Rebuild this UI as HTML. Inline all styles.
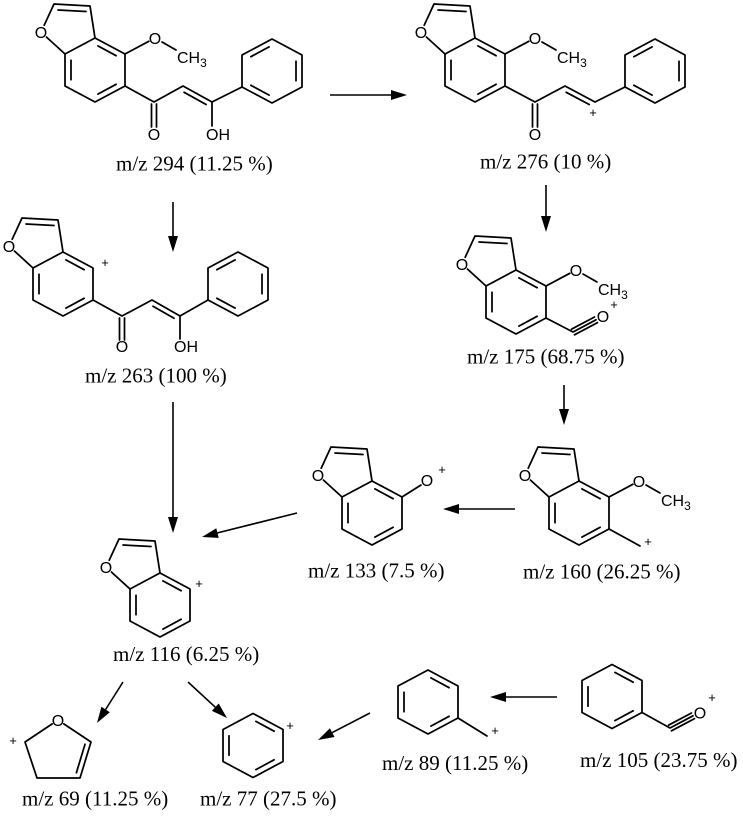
<!DOCTYPE html>
<html>
<head>
<meta charset="utf-8">
<style>
  html, body { margin: 0; padding: 0; background: #fff; }
  svg { display: block; }
  .b { fill: none; stroke: #000; stroke-width: 1.75; stroke-linecap: round; stroke-linejoin: round; }
  .a { fill: none; stroke: #000; stroke-width: 1.6; }
  .h { fill: #000; stroke: none; }
  .at { font-family: "Liberation Sans", Arial, sans-serif; font-size: 16px; fill: #000; }
  .pl { font-family: "Liberation Sans", Arial, sans-serif; font-size: 13px; fill: #000; }
  .lb { font-family: "Liberation Serif", "Times New Roman", serif; font-size: 21px; fill: #000; }
</style>
</head>
<body>
<svg width="743" height="819" viewBox="0 0 743 819" xmlns="http://www.w3.org/2000/svg">

<!-- ============ S1: m/z 294 ============ -->
<g transform="translate(95,70)">
  <path class="b" d="M0,-32 L30,-16 L30,16 L0,32 L-30,16 L-30,-16 Z M0,-32 L-5,-64 L-41,-66 L-50.8,-44.8 M-48.5,-32.9 L-30,-16 M2.9,-24.1 L21.1,-14.3 M21.1,14.3 L2.9,24.1 M-24,9.7 L-24,-9.7 M-37,-60 L-9,-58.5"/>
  <text class="at" x="-54" y="-32" text-anchor="middle">O</text>
  <path class="b" d="M30,-16 L53.8,-28.7 M67,-28 L81,-20"/>
  <text class="at" x="60" y="-26" text-anchor="middle">O</text>
  <text class="at" x="82" y="-7">CH<tspan font-size="12" dy="4">3</tspan></text>
</g>
<path class="b" d="M125,86 L154,102 L183,86 L212,102 L242,87 M151.5,104 L151.5,127 M156.5,104 L156.5,127 M184.1,92.3 L206.1,104.5 M212,102 L212,126"/>
<text class="at" x="154" y="140" text-anchor="middle">O</text>
<text class="at" x="206" y="140">OH</text>
<g transform="translate(272,71)">
  <path class="b" d="M0,-32 L30,-16 L30,16 L0,32 L-30,16 L-30,-16 Z M-21.1,-14.3 L-2.9,-24.1 M24,-9.7 L24,9.7 M-2.9,24.1 L-21.1,14.3"/>
</g>
<text class="lb" x="116" y="170.5">m/z 294 (11.25 %)</text>

<!-- ============ S2: m/z 276 ============ -->
<g transform="translate(475,70)">
  <path class="b" d="M0,-32 L30,-16 L30,16 L0,32 L-30,16 L-30,-16 Z M0,-32 L-5,-64 L-41,-66 L-50.8,-44.8 M-48.5,-32.9 L-30,-16 M2.9,-24.1 L21.1,-14.3 M21.1,14.3 L2.9,24.1 M-24,9.7 L-24,-9.7 M-37,-60 L-9,-58.5"/>
  <text class="at" x="-54" y="-32" text-anchor="middle">O</text>
  <path class="b" d="M30,-16 L53.8,-28.7 M67,-28 L81,-20"/>
  <text class="at" x="60" y="-26" text-anchor="middle">O</text>
  <text class="at" x="82" y="-7">CH<tspan font-size="12" dy="4">3</tspan></text>
</g>
<path class="b" d="M505,86 L535,102 L565,86 L595,102 L625,87 M532.5,104 L532.5,127 M537.5,104 L537.5,127 M566.2,92.3 L589.2,104.5"/>
<text class="at" x="535" y="140" text-anchor="middle">O</text>
<text class="pl" x="593" y="117" text-anchor="middle">+</text>
<g transform="translate(655,71)">
  <path class="b" d="M0,-32 L30,-16 L30,16 L0,32 L-30,16 L-30,-16 Z M-21.1,-14.3 L-2.9,-24.1 M24,-9.7 L24,9.7 M-2.9,24.1 L-21.1,14.3"/>
</g>
<text class="lb" x="480" y="168.5">m/z 276 (10 %)</text>

<!-- ============ S3: m/z 263 ============ -->
<g transform="translate(63,284)">
  <path class="b" d="M0,-32 L30,-16 L30,16 L0,32 L-30,16 L-30,-16 Z M0,-32 L-5,-64 L-41,-66 L-50.8,-44.8 M-48.5,-32.9 L-30,-16 M2.9,-24.1 L21.1,-14.3 M21.1,14.3 L2.9,24.1 M-24,9.7 L-24,-9.7 M-37,-60 L-9,-58.5"/>
  <text class="at" x="-54" y="-32" text-anchor="middle">O</text>
</g>
<text class="pl" x="105" y="267" text-anchor="middle">+</text>
<path class="b" d="M93,300 L122,316 L152,300 L180,316 L208,300 M119.5,318 L119.5,340 M124.5,318 L124.5,340 M153,306.3 L174,318.3 M180,316 L180,339"/>
<text class="at" x="122" y="352" text-anchor="middle">O</text>
<text class="at" x="174" y="352">OH</text>
<g transform="translate(238,284)">
  <path class="b" d="M0,-32 L30,-16 L30,16 L0,32 L-30,16 L-30,-16 Z M-21.1,-14.3 L-2.9,-24.1 M24,-9.7 L24,9.7 M-2.9,24.1 L-21.1,14.3"/>
</g>
<text class="lb" x="85" y="382.5">m/z 263 (100 %)</text>

<!-- ============ S4: m/z 175 ============ -->
<g transform="translate(516,302)">
  <path class="b" d="M0,-32 L30,-16 L30,16 L0,32 L-30,16 L-30,-16 Z M0,-32 L-5,-64 L-41,-66 L-50.8,-44.8 M-48.5,-32.9 L-30,-16 M2.9,-24.1 L21.1,-14.3 M21.1,14.3 L2.9,24.1 M-24,9.7 L-24,-9.7 M-37,-60 L-9,-58.5"/>
  <text class="at" x="-54" y="-32" text-anchor="middle">O</text>
  <path class="b" d="M30,-16 L53.8,-28.7 M67,-28 L81,-20"/>
  <text class="at" x="60" y="-26" text-anchor="middle">O</text>
  <text class="at" x="82" y="-7">CH<tspan font-size="12" dy="4">3</tspan></text>
</g>
<path class="b" d="M546,318 L573,332 L596,319.8 M574.5,334.8 L597.5,322.6 M571.5,329.2 L594.5,317"/>
<text class="at" x="603" y="322" text-anchor="middle">O</text>
<text class="pl" x="614" y="309" text-anchor="middle">+</text>
<text class="lb" x="467" y="363.5">m/z 175 (68.75 %)</text>

<!-- ============ S5: m/z 160 ============ -->
<g transform="translate(579,513)">
  <path class="b" d="M0,-32 L30,-16 L30,16 L0,32 L-30,16 L-30,-16 Z M0,-32 L-5,-64 L-41,-66 L-50.8,-44.8 M-48.5,-32.9 L-30,-16 M2.9,-24.1 L21.1,-14.3 M21.1,14.3 L2.9,24.1 M-24,9.7 L-24,-9.7 M-37,-60 L-9,-58.5"/>
  <text class="at" x="-54" y="-32" text-anchor="middle">O</text>
  <path class="b" d="M30,-16 L53.8,-28.7 M67,-28 L81,-20"/>
  <text class="at" x="60" y="-26" text-anchor="middle">O</text>
  <text class="at" x="82" y="-7">CH<tspan font-size="12" dy="4">3</tspan></text>
</g>
<path class="b" d="M609,529 L640,546"/>
<text class="pl" x="648" y="546" text-anchor="middle">+</text>
<text class="lb" x="523" y="578.5">m/z 160 (26.25 %)</text>

<!-- ============ S6: m/z 133 ============ -->
<g transform="translate(372,513)">
  <path class="b" d="M0,-32 L30,-16 L30,16 L0,32 L-30,16 L-30,-16 Z M0,-32 L-5,-64 L-41,-66 L-50.8,-44.8 M-48.5,-32.9 L-30,-16 M2.9,-24.1 L21.1,-14.3 M21.1,14.3 L2.9,24.1 M-24,9.7 L-24,-9.7 M-37,-60 L-9,-58.5"/>
  <text class="at" x="-54" y="-32" text-anchor="middle">O</text>
</g>
<path class="b" d="M402,497 L421,485"/>
<text class="at" x="427" y="486" text-anchor="middle">O</text>
<text class="pl" x="442" y="474" text-anchor="middle">+</text>
<text class="lb" x="308" y="577.5">m/z 133 (7.5 %)</text>

<!-- ============ S7: m/z 116 ============ -->
<g transform="translate(160,605)">
  <path class="b" d="M0,-32 L30,-16 L30,16 L0,32 L-30,16 L-30,-16 Z M0,-32 L-5,-64 L-41,-66 L-50.8,-44.8 M-48.5,-32.9 L-30,-16 M2.9,-24.1 L21.1,-14.3 M21.1,14.3 L2.9,24.1 M-24,9.7 L-24,-9.7 M-37,-60 L-9,-58.5"/>
  <text class="at" x="-54" y="-32" text-anchor="middle">O</text>
</g>
<text class="pl" x="199" y="588" text-anchor="middle">+</text>
<text class="lb" x="113" y="661">m/z 116 (6.25 %)</text>

<!-- ============ m/z 69 ============ -->
<path class="b" d="M52.2,723.9 L25,742 L37,778 L80,778 L91,742 L63.8,723.9 M76.4,772.7 L85,744.3"/>
<text class="at" x="58" y="726" text-anchor="middle">O</text>
<text class="pl" x="13" y="745" text-anchor="middle">+</text>
<text class="lb" x="22" y="805.5">m/z 69 (11.25 %)</text>

<!-- ============ m/z 77 ============ -->
<g transform="translate(253,745.5)">
  <path class="b" d="M0,-32 L30,-16 L30,16 L0,32 L-30,16 L-30,-16 Z M-24,9.7 L-24,-9.7 M2.9,-24.1 L21.1,-14.3 M21.1,14.3 L2.9,24.1"/>
</g>
<text class="pl" x="290" y="730" text-anchor="middle">+</text>
<text class="lb" x="200" y="805.5">m/z 77 (27.5 %)</text>

<!-- ============ m/z 89 ============ -->
<g transform="translate(428,702)">
  <path class="b" d="M0,-32 L30,-16 L30,16 L0,32 L-30,16 L-30,-16 Z M-24,9.7 L-24,-9.7 M2.9,-24.1 L21.1,-14.3 M21.1,14.3 L2.9,24.1"/>
</g>
<path class="b" d="M458,718 L487,736"/>
<text class="pl" x="495" y="735" text-anchor="middle">+</text>
<text class="lb" x="382" y="770">m/z 89 (11.25 %)</text>

<!-- ============ m/z 105 ============ -->
<g transform="translate(612,696.5)">
  <path class="b" d="M0,-32 L30,-16 L30,16 L0,32 L-30,16 L-30,-16 Z M-24,9.7 L-24,-9.7 M2.9,-24.1 L21.1,-14.3 M21.1,14.3 L2.9,24.1"/>
</g>
<path class="b" d="M642,712.5 L670,728 L693,715.8 M671.5,730.8 L694.5,718.6 M668.5,725.2 L691.5,713"/>
<text class="at" x="700" y="718.5" text-anchor="middle">O</text>
<text class="pl" x="712" y="702" text-anchor="middle">+</text>
<text class="lb" x="580" y="767">m/z 105 (23.75 %)</text>

<!-- ============ Arrows ============ -->
<line class="a" x1="330" y1="95" x2="392" y2="95"/>
<polygon class="h" points="407,95 391,90 391,100"/>
<line class="a" x1="173" y1="202" x2="173" y2="237"/>
<polygon class="h" points="173,252 168,236 178,236"/>
<line class="a" x1="546" y1="185" x2="546" y2="217"/>
<polygon class="h" points="546,232 541,216 551,216"/>
<line class="a" x1="173" y1="402" x2="173" y2="518"/>
<polygon class="h" points="173,533 168,517 178,517"/>
<line class="a" x1="297" y1="513" x2="217" y2="533"/>
<polygon class="h" points="202,537 218.7,537.9 216.3,528.3"/>
<line class="a" x1="515" y1="509" x2="458" y2="509"/>
<polygon class="h" points="443,509 459,504 459,514"/>
<line class="a" x1="564" y1="385" x2="564" y2="410"/>
<polygon class="h" points="564,425 559,409 569,409"/>
<line class="a" x1="123" y1="682" x2="105.6" y2="709.5"/>
<polygon class="h" points="97,723 109.8,712.2 101.4,706.8"/>
<line class="a" x1="188" y1="682" x2="215.3" y2="707.2"/>
<polygon class="h" points="227,718 211.9,710.9 218.7,703.5"/>
<line class="a" x1="370" y1="713" x2="332.2" y2="732.6"/>
<polygon class="h" points="318,740 334.5,737 329.9,728.2"/>
<line class="a" x1="557" y1="697" x2="505" y2="697"/>
<polygon class="h" points="490,697 506,692 506,702"/>

</svg>
</body>
</html>
